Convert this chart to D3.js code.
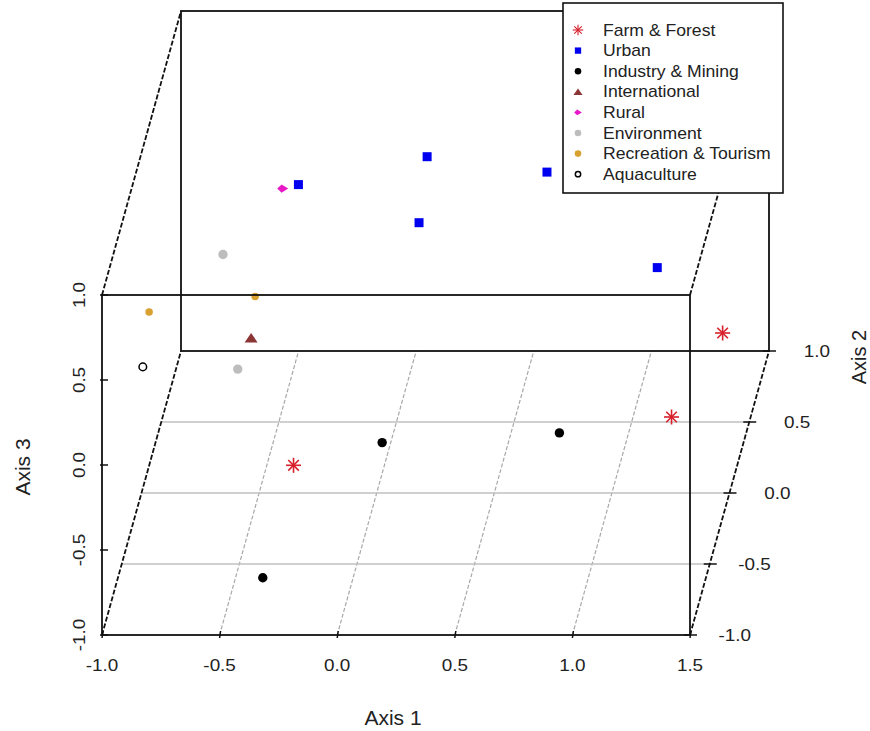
<!DOCTYPE html>
<html>
<head>
<meta charset="utf-8">
<script src="https://d3js.org/d3.v7.min.js"></script>
<style>
  body { margin: 0; background: #fff; }
  text { font-family: "Liberation Sans", Arial, sans-serif; fill: #222; }
</style>
</head>
<body>
<svg id="chart" width="870" height="731"></svg>
<script>
// groups and their points (axis1, axis2, axis3)
const groups = ["Farm & Forest", "Urban", "Industry & Mining", "International",
                "Rural", "Environment", "Recreation & Tourism", "Aquaculture"];
const pointGroup = [0, 0, 0, 1, 1, 1, 1, 1, 2, 2, 2, 3, 4, 5, 5, 6, 6, 7];
const axis1 = [-0.32, 1.22, 1.37, -0.40, 0.08, 0.18, 0.64, 1.26, 0.04, 0.76, -0.35, -0.45, -0.45, -0.62, -0.49, -0.85, -0.50, -0.86];
const axis2 = [-0.2, 0.2, 0.6, 0.4, 0.8, 0.0, 0.5, -0.4, -0.1, 0.1, -0.8, -0.5, 0.3, -0.2, -0.6, -0.7, -0.1, -0.8];
const axis3 = [-0.67, -0.72, -0.56, 0.48, 0.31, 0.59, 0.47, 0.66, -0.62, -0.73, -0.83, 0.33, 0.54, 0.57, 0.23, 0.65, 0.24, 0.41];

const xTicks = [-1.0, -0.5, 0.0, 0.5, 1.0, 1.5];
const yTicks = [-1.0, -0.5, 0.0, 0.5, 1.0];
const zTicks = [-1.0, -0.5, 0.0, 0.5, 1.0];

const groupColor = ["#d81f2a", "#0000f0", "#000000", "#8b3535", "#e818c8", "#bdbdbd", "#d9a230", "#000000"];
const groupShape = ["star", "square", "dot", "tri", "diamond", "dot", "dot", "ring"];

// projection: x across, z up, y goes into the page (right & up)
const xs = d3.scaleLinear().domain([-1, 1.5]).range([102, 690]);
const zs = d3.scaleLinear().domain([-1, 1]).range([635, 295]);
const dxs = d3.scaleLinear().domain([-1, 1]).range([0, 79]);
const dys = d3.scaleLinear().domain([-1, 1]).range([0, -284]);
function px(x, y) { return xs(x) + dxs(y); }
function py(y, z) { return zs(z) + dys(y); }
function fmt(v) { return v.toFixed(1); }

const svg = d3.select('#chart');

function txt(g, x, y, s, size, sx, anchor, rot) {
  g.append('text')
    .attr('transform', `translate(${x},${y})` + (rot ? ` rotate(${rot})` : '') + ` scale(${sx},1)`)
    .attr('font-size', size)
    .attr('text-anchor', anchor)
    .text(s);
}
function seg(g, x1, y1, x2, y2, color, w, dash) {
  const l = g.append('line')
    .attr('x1', x1).attr('y1', y1).attr('x2', x2).attr('y2', y2)
    .style('stroke', color).style('stroke-width', w);
  if (dash) l.style('stroke-dasharray', dash);
}

// grid on the bottom plane
const grid = svg.append('g');
xTicks.slice(1, -1).forEach(v => seg(grid, px(v, -1), py(-1, -1), px(v, 1), py(1, -1), '#a8a8a8', 1.2, '4,2'));
yTicks.slice(1, -1).forEach(v => seg(grid, px(-1, v), py(v, -1), px(1.5, v), py(v, -1), '#c0c0c0', 1.4));

// back face + slanted edges
const back = svg.append('g');
back.append('rect')
  .attr('x', px(-1, 1)).attr('y', py(1, 1))
  .attr('width', xs(1.5) - xs(-1)).attr('height', zs(-1) - zs(1))
  .style('fill', 'none').style('stroke', '#111').style('stroke-width', 1.8);
[[-1, -1], [-1, 1], [1.5, 1], [1.5, -1]].forEach(c =>
  seg(back, px(c[0], -1), py(-1, c[1]), px(c[0], 1), py(1, c[1]), '#111', 1.8, '5,2'));

// points
function symbol(g, shape, color, x, y, k) {
  if (shape === 'star') {
    const r = 7.5 * k;
    [0, 45, 90, 135].forEach(a => {
      const c = Math.cos(a * Math.PI / 180) * r, s = Math.sin(a * Math.PI / 180) * r;
      seg(g, x - c, y - s, x + c, y + s, color, 1.6 * k);
    });
  } else if (shape === 'square') {
    const h = 4.5 * k;
    g.append('rect').attr('x', x - h).attr('y', y - h).attr('width', 2 * h).attr('height', 2 * h).style('fill', color);
  } else if (shape === 'dot') {
    g.append('circle').attr('cx', x).attr('cy', y).attr('r', 4.7 * k).style('fill', color);
  } else if (shape === 'ring') {
    g.append('circle').attr('cx', x).attr('cy', y).attr('r', 3.8 * k)
      .style('fill', 'none').style('stroke', color).style('stroke-width', 1.5);
  } else if (shape === 'tri') {
    const h = 6.5 * k;
    g.append('path').attr('d', `M${x - h},${y + h * 0.7}L${x + h},${y + h * 0.7}L${x},${y - h * 0.75}Z`).style('fill', color);
  } else if (shape === 'diamond') {
    const h = 5.5 * k;
    g.append('path').attr('d', `M${x - h},${y}L${x - h * 0.2},${y - h * 0.75}L${x + h},${y}L${x - h * 0.2},${y + h * 0.75}Z`).style('fill', color);
  }
}
const pts = svg.append('g');
axis1.forEach((v, i) => {
  const gi = pointGroup[i];
  const sizeK = groups[gi] === 'Recreation & Tourism' ? 0.8 : 1;
  symbol(pts, groupShape[gi], groupColor[gi], px(v, axis2[i]), py(axis2[i], axis3[i]), sizeK);
});

// front face
const front = svg.append('g');
front.append('rect')
  .attr('x', xs(-1)).attr('y', zs(1))
  .attr('width', xs(1.5) - xs(-1)).attr('height', zs(-1) - zs(1))
  .style('fill', 'none').style('stroke', '#111').style('stroke-width', 1.8);

// axis 1
xTicks.forEach(v => {
  seg(front, xs(v), zs(-1) + 3, xs(v) + 1, zs(-1) - 4, '#111', 1.5);
  txt(front, xs(v), 671, fmt(v), 16, 1.18, 'middle');
});
txt(front, 393, 725, 'Axis 1', 21, 1, 'middle');

// axis 3
zTicks.forEach(v => {
  seg(front, xs(-1) - 2, zs(v), xs(-1) + 6, zs(v), '#111', 1.5);
  txt(front, 85, zs(v), fmt(v), 16, 1.18, 'middle', -90);
});
txt(front, 30, 467, 'Axis 3', 21, 1, 'middle', -90);

// axis 2 along right bottom edge
yTicks.forEach(v => {
  const tx = px(1.5, v), ty = py(v, -1);
  seg(front, tx - 6, ty, tx + 7, ty, '#111', 1.5);
  txt(front, tx + 61, ty + 6, fmt(v), 16, 1.18, 'end');
});
txt(front, 866, 357, 'Axis 2', 20, 1, 'middle', -90);

// legend
const leg = svg.append('g');
leg.append('rect')
  .attr('x', 563).attr('y', 3).attr('width', 220).attr('height', 190)
  .style('fill', '#fff').style('stroke', '#111').style('stroke-width', 1.6);
groups.forEach((name, i) => {
  const ry = 30 + i * 20.6;
  symbol(leg, groupShape[i], groupColor[i], 578, ry, 0.7);
  txt(leg, 603, ry + 5.5, name, 16, 1.1, 'start');
});
</script>
</body>
</html>
